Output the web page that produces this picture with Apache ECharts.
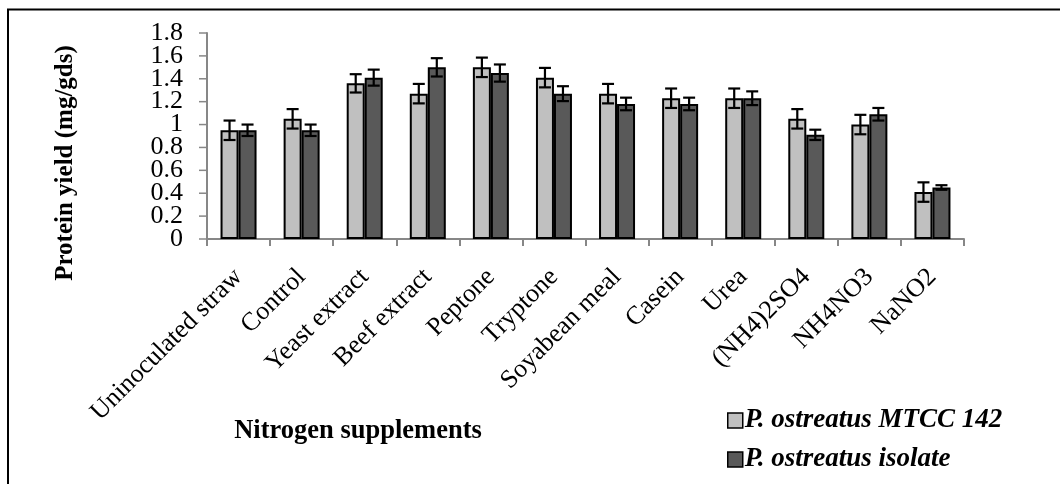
<!DOCTYPE html>
<html>
<head>
<meta charset="utf-8">
<script src="https://cdn.jsdelivr.net/npm/echarts@6/dist/echarts.min.js"></script>
<style>html,body{margin:0;padding:0;background:#fff;}#c{width:1060px;height:484px;}</style>
</head>
<body>
<div id="c"></div>
<script>
const categories = ['Uninoculated straw','Control','Yeast extract','Beef extract','Peptone','Tryptone','Soyabean meal','Casein','Urea','(NH4)2SO4','NH4NO3','NaNO2'];
const seriesNames = ['P. ostreatus MTCC 142','P. ostreatus isolate'];
const mtcc = [0.95,1.05,1.36,1.27,1.50,1.41,1.27,1.23,1.23,1.05,1.00,0.41];
const mtccErr = [0.085,0.085,0.08,0.085,0.085,0.085,0.085,0.085,0.085,0.085,0.085,0.085];
const isolate = [0.95,0.95,1.41,1.50,1.45,1.27,1.18,1.18,1.23,0.91,1.09,0.45];
const isolateErr = [0.05,0.05,0.07,0.08,0.075,0.065,0.055,0.055,0.06,0.045,0.055,0.02];
const yTickValues = [0,0.2,0.4,0.6,0.8,1,1.2,1.4,1.6,1.8];
const yTickLabels = ['0','0.2','0.4','0.6','0.8','1','1.2','1.4','1.6','1.8'];

const FONT = 'Liberation Serif';
const BAR_W = 18;
const colors = ['#c0c0c0','#595959'];

function errSeries(vals, errs, offset){
  return {
    type:'custom',
    silent:true,
    z:10,
    data: vals.map((v,i)=>[i,v,errs[i]]),
    encode:{x:0,y:1},
    renderItem:function(params, api){
      const i = api.value(0), v = api.value(1), e = api.value(2);
      const top = api.coord([i, v+e]);
      const bot = api.coord([i, v-e]);
      const x = top[0] + offset;
      const cap = 6;
      const st = {stroke:'#000', lineWidth:2.2};
      return {type:'group', children:[
        {type:'line', shape:{x1:x,y1:top[1],x2:x,y2:bot[1]}, style:st},
        {type:'line', shape:{x1:x-cap,y1:top[1],x2:x+cap,y2:top[1]}, style:st},
        {type:'line', shape:{x1:x-cap,y1:bot[1],x2:x+cap,y2:bot[1]}, style:st}
      ]};
    }
  };
}

// y tick marks and labels placed through the value axis scale
const yLabelSeries = {
  type:'custom',
  silent:true,
  clip:false,
  data: yTickValues.map((v,i)=>[0,v,i]),
  encode:{x:0,y:1},
  renderItem:function(params, api){
    const v = api.value(1), i = api.value(2);
    const y = api.coord([0, v])[1];
    const x0 = params.coordSys.x;
    return {type:'group', children:[
      {type:'line', shape:{x1:x0-8,y1:y,x2:x0,y2:y}, style:{stroke:'#878787',lineWidth:1.5}},
      {type:'text', x:x0-24, y:y, style:{text:yTickLabels[i],fontFamily:FONT,fontSize:26,fill:'#000',align:'right',verticalAlign:'middle'}}
    ]};
  }
};

function legendFor(name, top){
  return {
    orient:'vertical', left:727, top:top, padding:0,
    itemWidth:15, itemHeight:15,
    icon:'rect',
    data:[name],
    itemStyle:{borderColor:'#000',borderWidth:1.5},
    textStyle:{fontFamily:FONT,fontSize:27,lineHeight:22,fontWeight:'bold',fontStyle:'italic',color:'#000',padding:[0,0,0,-3]}
  };
}

const chart = echarts.init(document.getElementById('c'));
chart.setOption({
  animation:false,
  backgroundColor:'#fff',
  grid:{left:207,right:96,top:33,bottom:245,containLabel:false},
  legend:[legendFor(seriesNames[0],407), legendFor(seriesNames[1],446)],
  xAxis:{
    type:'category',
    data:categories,
    axisLine:{lineStyle:{color:'#878787',width:2}},
    axisTick:{show:true,alignWithLabel:false,length:7,lineStyle:{color:'#878787',width:2}},
    axisLabel:{rotate:45,interval:0,margin:34,fontFamily:FONT,fontSize:26,color:'#000'}
  },
  yAxis:{
    type:'value',
    min:0,max:1.8,interval:0.2,
    axisLine:{show:true,lineStyle:{color:'#878787',width:2}},
    axisTick:{show:false},
    splitLine:{show:false},
    axisLabel:{show:false}
  },
  graphic:[
    {type:'rect',shape:{x:8,y:9.5,width:1200,height:700},style:{fill:'none',stroke:'#000',lineWidth:2},silent:true},
    {type:'text',x:66,y:163,rotation:Math.PI/2,style:{text:'Protein yield (mg/gds)',fontFamily:FONT,fontSize:25,fontWeight:'bold',fill:'#000',align:'center',verticalAlign:'middle'}},
    {type:'text',x:358,y:431,style:{text:'Nitrogen supplements',fontFamily:FONT,fontSize:26.5,fontWeight:'bold',fill:'#000',align:'center',verticalAlign:'middle'}}
  ],
  series:[
    {name:seriesNames[0],type:'bar',data:mtcc,barWidth:BAR_W,barGap:'0%',
     itemStyle:{color:colors[0],borderColor:'#000',borderWidth:2}},
    {name:seriesNames[1],type:'bar',data:isolate,barWidth:BAR_W,barGap:'0%',
     itemStyle:{color:colors[1],borderColor:'#000',borderWidth:2}},
    errSeries(mtcc, mtccErr, -BAR_W/2),
    errSeries(isolate, isolateErr, BAR_W/2),
    yLabelSeries
  ]
});
</script>
</body>
</html>
